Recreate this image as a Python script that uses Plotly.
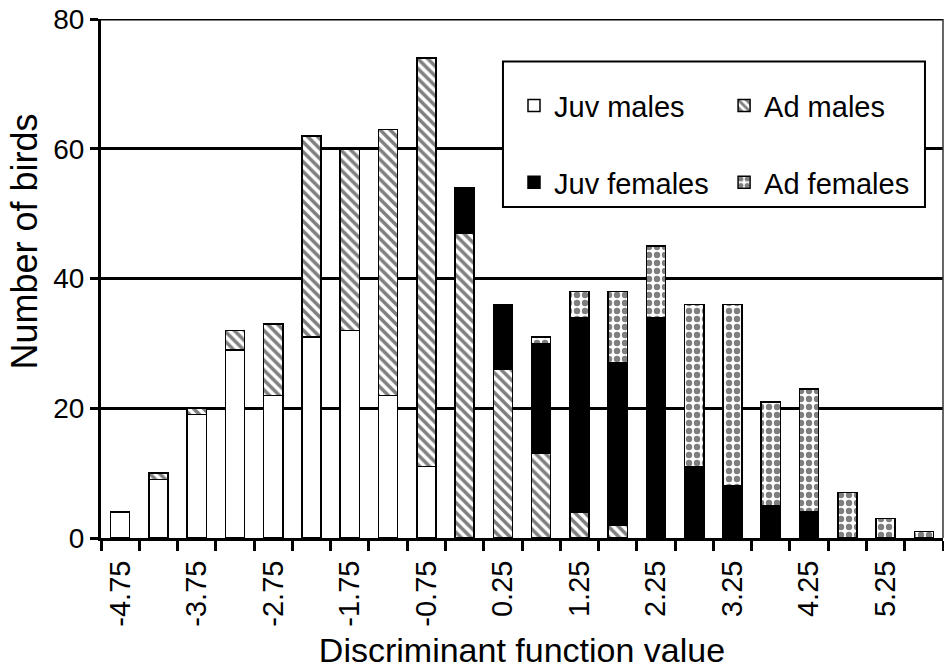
import plotly.graph_objects as go

# ---- data ----
x_values = [-4.75, -4.25, -3.75, -3.25, -2.75, -2.25, -1.75, -1.25, -0.75, -0.25,
            0.25, 0.75, 1.25, 1.75, 2.25, 2.75, 3.25, 3.75, 4.25, 4.75, 5.25, 5.75]
juv_males = [4, 9, 19, 29, 22, 31, 32, 22, 11, 0, 0, 0, 0, 0, 0, 0, 0, 0, 0, 0, 0, 0]
ad_males = [0, 1, 1, 3, 11, 31, 28, 41, 63, 47, 26, 13, 4, 2, 0, 0, 0, 0, 0, 0, 0, 0]
juv_females = [0, 0, 0, 0, 0, 0, 0, 0, 0, 7, 10, 17, 30, 25, 34, 11, 8, 5, 4, 0, 0, 0]
ad_females = [0, 0, 0, 0, 0, 0, 0, 0, 0, 0, 0, 1, 4, 11, 11, 25, 28, 16, 19, 7, 3, 1]

tick_values = [-4.75, -3.75, -2.75, -1.75, -0.75, 0.25, 1.25, 2.25, 3.25, 4.25, 5.25]
tick_labels = ["-4.75", "-3.75", "-2.75", "-1.75", "-0.75", "0.25", "1.25", "2.25", "3.25", "4.25", "5.25"]
y_ticks = [0, 20, 40, 60, 80]

FONT = "Liberation Sans, Arial, sans-serif"


def nz(vals):
    return [v if v else None for v in vals]


fig = go.Figure()
series = [
    ("Juv males", juv_males, dict(color="white"), "legend", "g1"),
    ("Ad males", ad_males, dict(color="white",
                                pattern=dict(shape="\\", fgcolor="black", bgcolor="white",
                                             size=7, solidity=0.5)), "legend2", "g2"),
    ("Juv females", juv_females, dict(color="black"), "legend", "g3"),
    ("Ad females", ad_females, dict(color="white",
                                    pattern=dict(shape=".", fgcolor="black", bgcolor="white",
                                                 size=8, solidity=0.5)), "legend2", "g4"),
]
for name, vals, mk, leg, grp in series:
    mk = dict(mk)
    mk["line"] = dict(color="black", width=1.5)
    fig.add_trace(go.Bar(x=x_values, y=nz(vals), name=name, marker=mk, width=0.25,
                         legend=leg, legendgroup=grp))

# top grid line at the axis maximum
fig.add_shape(type="line", xref="paper", yref="y", x0=0, x1=1, y0=y_ticks[-1], y1=y_ticks[-1],
              line=dict(color="black", width=3), layer="below")
# legend box
fig.add_shape(type="rect", xref="paper", yref="paper", x0=0.4774, x1=0.9786, y0=0.638, y1=0.918,
              line=dict(color="black", width=2), fillcolor="white", layer="above")
# right border line
fig.add_shape(type="line", xref="paper", yref="paper", x0=1, x1=1, y0=0, y1=1,
              line=dict(color="#333", width=1.5))

# y-axis title placed as an annotation (it sits above the plot's centre in the reference)
fig.add_annotation(text="Number of birds", xref="paper", yref="paper", x=-0.091, y=0.572,
                   xanchor="center", yanchor="middle", textangle=-90, showarrow=False,
                   font=dict(size=36, family=FONT, color="black"))

fig.update_layout(
    width=944, height=669,
    margin=dict(l=101, r=1, t=19, b=131),
    barmode="stack",
    plot_bgcolor="white", paper_bgcolor="white",
    font=dict(family=FONT, color="black", size=27),
    legend=dict(x=0.4905, y=0.882, xanchor="left", yanchor="top", bgcolor="rgba(0,0,0,0)",
                font=dict(size=29, family=FONT), tracegroupgap=36, itemwidth=30),
    legend2=dict(x=0.740, y=0.882, xanchor="left", yanchor="top", bgcolor="rgba(0,0,0,0)",
                 font=dict(size=29, family=FONT), tracegroupgap=36, itemwidth=30),
    xaxis=dict(range=[-5, 6], tickvals=tick_values, ticktext=tick_labels, tickangle=-90,
               ticks="outside", ticklen=8, tickcolor="rgba(0,0,0,0)",
               minor=dict(ticks="outside", tick0=-5, dtick=0.5, ticklen=10, tickwidth=3,
                          tickcolor="black", showgrid=False),
               showline=True, linewidth=3, linecolor="black", showgrid=False, zeroline=False,
               tickfont=dict(size=29), automargin=False, ticklabeloverflow="allow",
               title=dict(text="Discriminant function value", font=dict(size=34), standoff=13)),
    yaxis=dict(range=[0, 80], tickvals=y_ticks, ticks="outside", ticklen=8, tickwidth=3,
               tickcolor="black", showline=True, linewidth=3, linecolor="black",
               showgrid=True, gridwidth=3, gridcolor="black", zeroline=False,
               tickfont=dict(size=28), automargin=False, ticklabeloverflow="allow"),
)

fig.write_html("out.html", config={"displayModeBar": False},
               post_script="document.body.style.margin='0';document.body.style.overflow='hidden';")
